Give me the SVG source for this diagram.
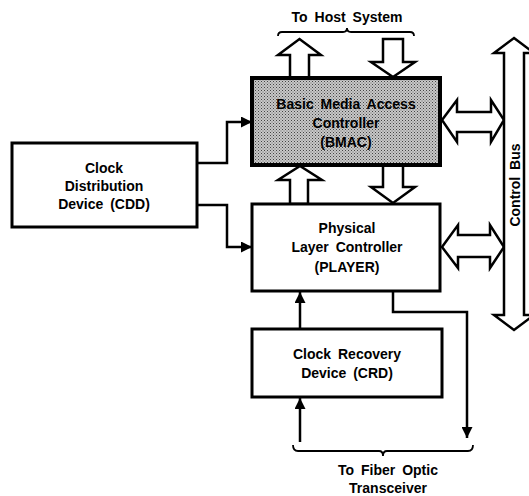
<svg xmlns="http://www.w3.org/2000/svg" width="529" height="496" viewBox="0 0 529 496">
<defs>
<pattern id="stip" width="3" height="3" patternUnits="userSpaceOnUse">
<rect width="3" height="3" fill="#c8c8c8"/>
<rect x="0" y="0" width="1" height="1" fill="#444"/>
<rect x="1.5" y="1.5" width="1" height="1" fill="#666"/>
</pattern>
<marker id="ah" viewBox="0 0 10 10" refX="10" refY="5" markerWidth="11" markerHeight="11" markerUnits="userSpaceOnUse" orient="auto">
<path d="M0,0 L10,5 L0,10 Z" fill="#000"/>
</marker>
</defs>
<style>
.box{fill:#fff;stroke:#000;stroke-width:3}
.lbl{font-family:"Liberation Sans",Arial,sans-serif;font-weight:bold;font-size:14px;word-spacing:3px;fill:#000;text-anchor:middle}
.ln{fill:none;stroke:#000;stroke-width:2.5;marker-end:url(#ah)}
.hol{fill:#fff;stroke:#000;stroke-width:2.5;stroke-linejoin:miter}
.brace{fill:none;stroke:#000;stroke-width:1.8}
</style>
<rect width="529" height="496" fill="#fff"/>

<g id="connectors">
<polyline class="ln" points="197,163 227,163 227,122 252,122"/>
<polyline class="ln" points="197,205 227,205 227,247 252,247"/>
<line class="ln" x1="300" y1="329" x2="300" y2="292"/>
<line class="ln" x1="300" y1="442" x2="300" y2="398"/>
<polyline class="ln" points="393,291 393,312 467,312 467,438"/>
<polygon class="hol" points="290,78 290,55 278,55 299.5,39 321,55 309,55 309,78"/>
<polygon class="hol" points="383,39 403,39 403,62 415,62 393,77 371,62 383,62"/>
<polygon class="hol" points="290,204 290,180 278,180 300,166 322,180 308,180 308,204"/>
<polygon class="hol" points="383,165 403,165 403,187 415,187 393,203 371,187 383,187"/>
<polygon class="hol" points="442,120 457,100 457,112 491,112 491,100 504,120 491,142 491,132 457,132 457,142"/>
<polygon class="hol" points="442,247 458,225 458,235 490,235 490,225 504,247 490,268 490,257 458,257 458,268"/>
<polygon class="hol" points="514,38 534,53 524,53 524,315 534,315 514,330 494,315 504,315 504,53 494,53"/>
</g>

<g id="host-label">
<path class="brace" d="M278,36 Q278,32 282,32 L343,32 Q347,32 347,28 Q347,32 351,32 L410,32 Q414,32 414,36"/>
<text class="lbl" x="347" y="22">To Host System</text>
</g>

<g id="bus-label">
<text class="lbl" transform="translate(520,185) rotate(-90)">Control Bus</text>
</g>

<g id="fiber-label">
<path class="brace" d="M293,445 Q293,451 298,451 L379,451 Q383,451 383,456 Q383,451 387,451 L468,451 Q473,451 473,445"/>
<text class="lbl" x="388" y="475">To Fiber Optic</text>
<text class="lbl" x="388" y="493">Transceiver</text>
</g>

<g id="cdd">
<rect class="box" x="12" y="143" width="185" height="84"/>
<text class="lbl" x="104" y="173">Clock</text>
<text class="lbl" x="104" y="191">Distribution</text>
<text class="lbl" x="104" y="209">Device (CDD)</text>
</g>

<g id="bmac">
<rect x="252" y="78" width="188" height="87" fill="url(#stip)" stroke="#000" stroke-width="4"/>
<text class="lbl" x="346" y="109">Basic Media Access</text>
<text class="lbl" x="346" y="128">Controller</text>
<text class="lbl" x="346" y="147">(BMAC)</text>
</g>

<g id="player">
<rect class="box" x="252" y="204" width="188" height="87"/>
<text class="lbl" x="347" y="233">Physical</text>
<text class="lbl" x="347" y="252">Layer Controller</text>
<text class="lbl" x="347" y="272">(PLAYER)</text>
</g>

<g id="crd">
<rect class="box" x="252" y="329" width="190" height="68"/>
<text class="lbl" x="347" y="359">Clock Recovery</text>
<text class="lbl" x="347" y="378">Device (CRD)</text>
</g>
</svg>
